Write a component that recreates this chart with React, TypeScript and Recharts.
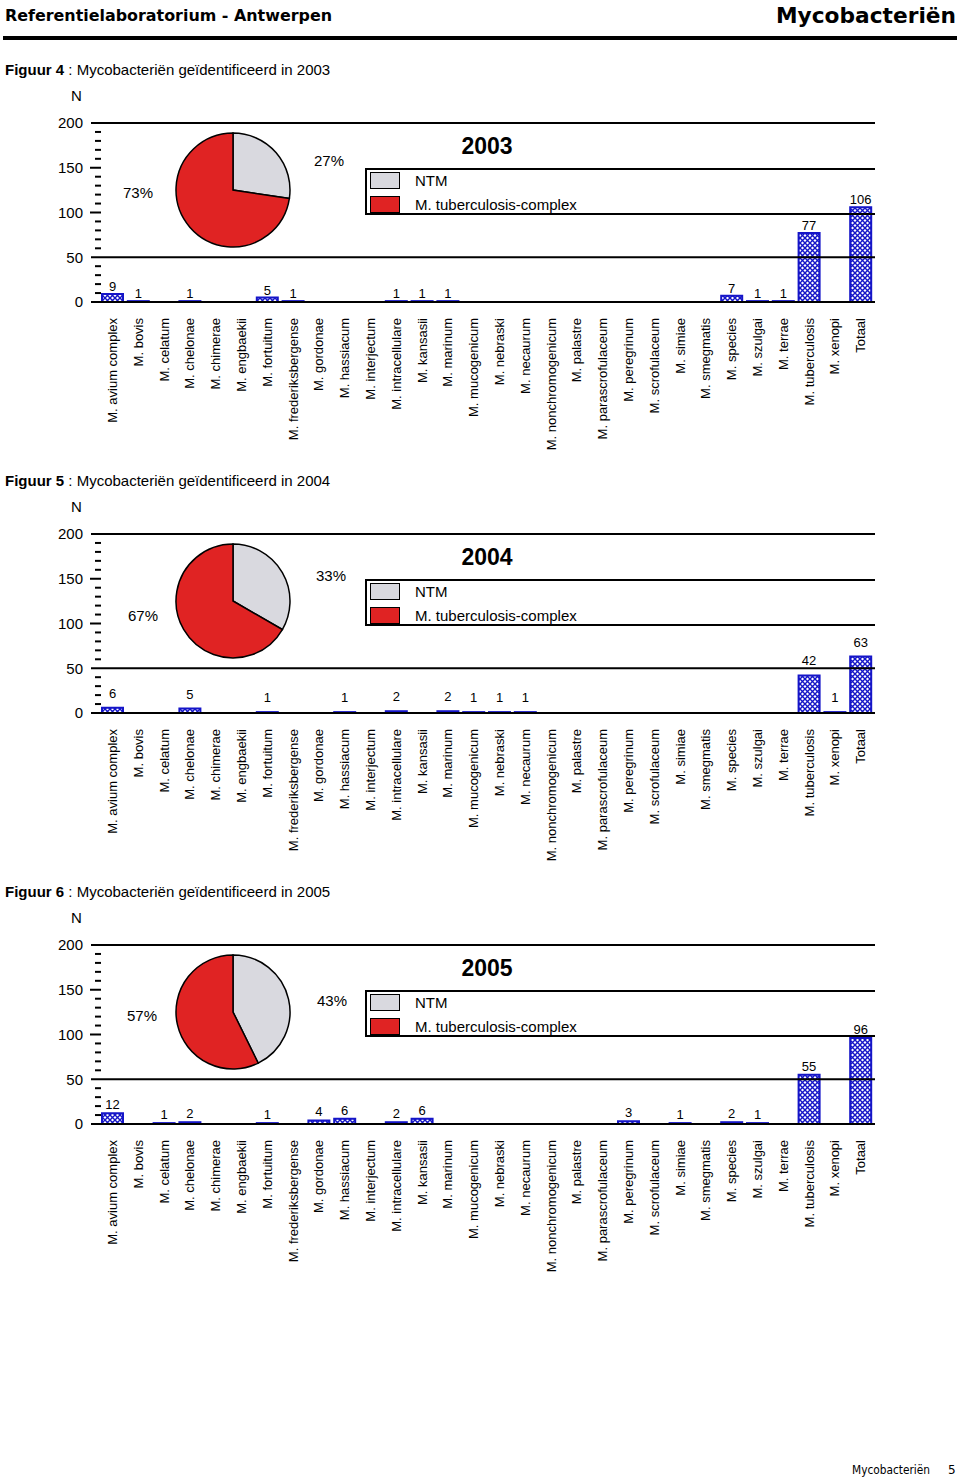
import React from "react";
import { BarChart, Bar, XAxis, YAxis, LabelList, PieChart, Pie, Cell } from "recharts";

const species = [
  "M. avium complex", "M. bovis", "M. celatum", "M. chelonae", "M. chimerae",
  "M. engbaekii", "M. fortuitum", "M. frederiksbergense", "M. gordonae", "M. hassiacum",
  "M. interjectum", "M. intracellulare", "M. kansasii", "M. marinum", "M. mucogenicum",
  "M. nebraski", "M. necaurum", "M. nonchromogenicum", "M. palastre", "M. parascrofulaceum",
  "M. peregrinum", "M. scrofulaceum", "M. simiae", "M. smegmatis", "M. species",
  "M. szulgai", "M. terrae", "M. tuberculosis", "M. xenopi", "Totaal",
];

const counts2003 = [9, 1, 0, 1, 0, 0, 5, 1, 0, 0, 0, 1, 1, 1, 0, 0, 0, 0, 0, 0, 0, 0, 0, 0, 7, 1, 1, 77, 0, 106];
const counts2004 = [6, 0, 0, 5, 0, 0, 1, 0, 0, 1, 0, 2, 0, 2, 1, 1, 1, 0, 0, 0, 0, 0, 0, 0, 0, 0, 0, 42, 1, 63];
const counts2005 = [12, 0, 1, 2, 0, 0, 1, 0, 4, 6, 0, 2, 6, 0, 0, 0, 0, 0, 0, 0, 3, 0, 1, 0, 2, 1, 0, 55, 0, 96];

const yTicks = [0, 10, 20, 30, 40, 50, 60, 70, 80, 90, 100, 110, 120, 130, 140, 150, 160, 170, 180, 190, 200];
const pieNames = ["NTM", "M. tuberculosis-complex"];
const pieColors = ["#d9d9df", "#e02323"];

const FONT = "'Liberation Sans', Arial, Helvetica, sans-serif";
const BLUE = "#1515c8";

// layout for each figure (top = y of the 200 line)
const figures = [
  { nr: 4, year: 2003, counts: counts2003, top: 123, labelOffset: 3, ntmLabel: [329, 38], mtbLabel: [138, 70] },
  { nr: 5, year: 2004, counts: counts2004, top: 534, labelOffset: 10, ntmLabel: [331, 42], mtbLabel: [143, 82] },
  { nr: 6, year: 2005, counts: counts2005, top: 945, labelOffset: 4, ntmLabel: [332, 56], mtbLabel: [142, 71] },
];

function YTick(props: any) {
  const { y, payload } = props;
  const v = payload.value as number;
  const labelled = v % 50 === 0;
  const gridded = v === 0 || v === 50 || v === 200;
  return (
    <g>
      {gridded ? (
        <line x1={91} x2={875} y1={y} y2={y} stroke="#000" strokeWidth={2} />
      ) : labelled ? (
        <line x1={90} x2={101} y1={y} y2={y} stroke="#000" strokeWidth={2} />
      ) : (
        <line x1={95} x2={101} y1={y} y2={y} stroke="#000" strokeWidth={2} />
      )}
      {labelled && (
        <text x={83} y={y} dy="0.35em" textAnchor="end" fontSize={15} fontFamily={FONT} fill="#000">
          {v}
        </text>
      )}
    </g>
  );
}

function XTick(props: any) {
  const { x, y, payload } = props;
  return (
    <text
      transform={`translate(${x + 4},${y + 16}) rotate(-90)`}
      textAnchor="end"
      fontSize={13}
      fontFamily={FONT}
      fill="#000"
    >
      {payload.value}
    </text>
  );
}

function Figure({ fig }: { fig: (typeof figures)[number] }) {
  const data = species.map((name, i) => ({ name, value: fig.counts[i] }));
  const total = fig.counts[fig.counts.length - 1];
  const mtb = fig.counts[species.indexOf("M. tuberculosis")];
  const pieData = [
    { name: pieNames[0], value: total - mtb },
    { name: pieNames[1], value: mtb },
  ];
  const pct = (v: number) => `${Math.round((v / total) * 100)}%`;
  const top = fig.top;
  const pid = `hatch${fig.year}`;

  return (
    <>
      <div style={{ position: "absolute", left: 5, top: top - 62, fontFamily: FONT, fontSize: 15, whiteSpace: "nowrap" }}>
        <b>Figuur {fig.nr}</b> : Mycobacteriën geïdentificeerd in {fig.year}
      </div>
      <div style={{ position: "absolute", left: 71, top: top - 36, fontFamily: FONT, fontSize: 15 }}>N</div>

      <div style={{ position: "absolute", left: 0, top: top - 10 }}>
        <BarChart
          width={960}
          height={10 + 179 + 160}
          data={data}
          margin={{ top: 10, right: 86, left: 60, bottom: 0 }}
          barSize={21}
        >
          <defs>
            <pattern id={pid} width={5} height={5} patternUnits="userSpaceOnUse">
              <rect width={5} height={5} fill="#fff" />
              <path d="M0,0 L5,5 M5,0 L0,5" stroke={BLUE} strokeWidth={1.4} />
            </pattern>
          </defs>
          <XAxis
            dataKey="name"
            interval={0}
            tickLine={false}
            axisLine={false}
            tickSize={0}
            tickMargin={0}
            height={160}
            tick={<XTick />}
          />
          <YAxis
            domain={[0, 200]}
            ticks={yTicks}
            interval={0}
            width={40}
            tickLine={false}
            axisLine={false}
            tick={<YTick />}
          />
          <Bar dataKey="value" fill={`url(#${pid})`} stroke={BLUE} strokeWidth={2} isAnimationActive={false}>
            <LabelList
              dataKey="value"
              position="top"
              offset={fig.labelOffset}
              fontSize={13}
              fontFamily={FONT}
              fill="#000"
              formatter={(v: any) => (v ? v : "")}
            />
          </Bar>
        </BarChart>
      </div>

      <div style={{ position: "absolute", left: 233 - 65, top: top + 67 - 65 }}>
        <PieChart width={130} height={130} margin={{ top: 0, right: 0, bottom: 0, left: 0 }}>
          <Pie
            data={pieData}
            dataKey="value"
            cx={65}
            cy={65}
            outerRadius={57}
            startAngle={90}
            endAngle={-270}
            stroke="#000"
            strokeWidth={1.5}
            isAnimationActive={false}
          >
            {pieData.map((d, i) => (
              <Cell key={d.name} fill={pieColors[i]} />
            ))}
          </Pie>
        </PieChart>
      </div>

      <div style={{ position: "absolute", left: fig.ntmLabel[0] - 20, width: 40, textAlign: "center", top: top + fig.ntmLabel[1] - 9, fontFamily: FONT, fontSize: 15 }}>
        {pct(pieData[0].value)}
      </div>
      <div style={{ position: "absolute", left: fig.mtbLabel[0] - 20, width: 40, textAlign: "center", top: top + fig.mtbLabel[1] - 9, fontFamily: FONT, fontSize: 15 }}>
        {pct(pieData[1].value)}
      </div>

      <div style={{ position: "absolute", left: 437, width: 100, textAlign: "center", top: top + 10, fontFamily: FONT, fontSize: 23, fontWeight: "bold" }}>
        {fig.year}
      </div>
      <div
        style={{
          position: "absolute",
          left: 365,
          top: top + 45,
          width: 508,
          height: 43,
          borderTop: "2px solid #000",
          borderBottom: "2px solid #000",
          borderLeft: "2px solid #000",
        }}
      >
        {pieNames.map((n, i) => (
          <div key={n} style={{ position: "absolute", left: 3, top: 2 + i * 24, display: "flex", alignItems: "center" }}>
            <div style={{ width: 28, height: 15, background: pieColors[i], border: "1.5px solid #000" }} />
            <span style={{ marginLeft: 15, fontFamily: FONT, fontSize: 15 }}>{n}</span>
          </div>
        ))}
      </div>
    </>
  );
}

export default function App() {
  return (
    <div style={{ position: "absolute", left: 0, top: 0, width: 960, height: 1479, background: "#fff", overflow: "hidden" }}>
      <svg width={960} height={45} style={{ position: "absolute", left: 0, top: 0 }}>
        <text x={5} y={21} fontSize={16} fontWeight="bold" fontFamily="'DejaVu Sans', sans-serif" textLength={327} lengthAdjust="spacingAndGlyphs">
          Referentielaboratorium - Antwerpen
        </text>
        <text x={956} y={23} textAnchor="end" fontSize={22} fontWeight="bold" fontFamily="'DejaVu Sans', sans-serif" textLength={180} lengthAdjust="spacingAndGlyphs">
          Mycobacteriën
        </text>
        <rect x={3} y={36} width={954} height={4} fill="#000" />
      </svg>
      {figures.map((f) => (
        <Figure key={f.year} fig={f} />
      ))}
      <svg width={960} height={20} style={{ position: "absolute", left: 0, top: 1460 }}>
        <text x={852} y={14} fontSize={12} fontFamily="'DejaVu Sans', sans-serif" textLength={78} lengthAdjust="spacingAndGlyphs">
          Mycobacteriën
        </text>
        <text x={948} y={14} fontSize={12} fontFamily="'DejaVu Sans', sans-serif">5</text>
      </svg>
    </div>
  );
}
